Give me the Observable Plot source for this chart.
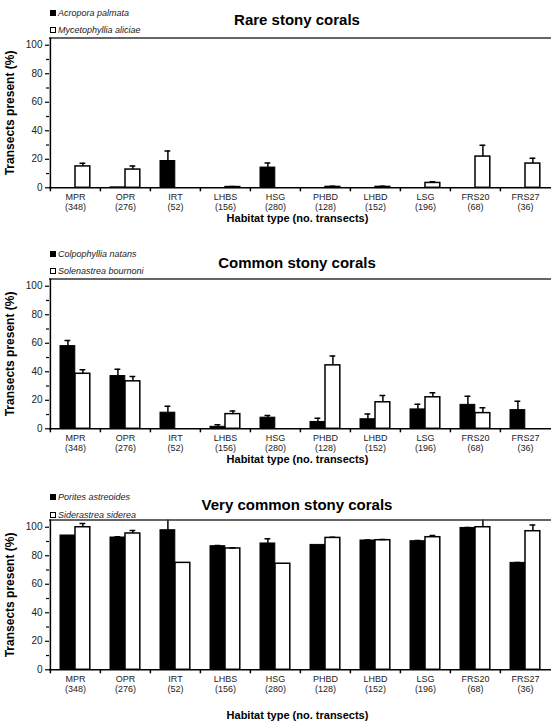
<!DOCTYPE html>
<html>
<head>
<meta charset="utf-8">
<script src="https://cdn.jsdelivr.net/npm/d3@7"></script>
<script src="https://cdn.jsdelivr.net/npm/@observablehq/plot@0.6"></script>
<style>
  body { margin: 0; background: #fff; font-family: "Liberation Sans", Arial, sans-serif; }
  #root { width: 551px; }
  .panel { position: relative; width: 551px; height: 241px; }
  .panel svg { position: absolute; left: 0; top: 0; }
  .title { position: absolute; transform: translate(-50%, -50%); white-space: nowrap;
           font-weight: bold; font-size: 15px; color: #000; }
  .leg { position: absolute; left: 50px; transform: translateY(-50%); white-space: nowrap;
         font-size: 9px; font-style: italic; color: #222; display: flex; align-items: center; }
  .sw { display: inline-block; width: 6px; height: 6px; margin-right: 2px; box-sizing: border-box; }
</style>
</head>
<body>
<div id="root"></div>
<script>
// ---- data ----
const habitats = ["MPR", "OPR", "IRT", "LHBS", "HSG", "PHBD", "LHBD", "LSG", "FRS20", "FRS27"];
const transects = [348, 276, 52, 156, 280, 128, 152, 196, 68, 36];
const yTicks = [0, 20, 40, 60, 80, 100];
const yMinorTicks = [10, 30, 50, 70, 90];
const panelTitles = ["Rare stony corals", "Common stony corals", "Very common stony corals"];
const yLabel = "Transects present (%)";
const xLabel = "Habitat type (no. transects)";

// Rare stony corals
const rareSpecies = ["Acropora palmata", "Mycetophyllia aliciae"];
const acroporaPalmata    = [0, 0.3, 18.8, 0, 14.2, 0, 0, 0, 0, 0];
const acroporaPalmataErr = [null, null, 25.8, null, 17.4, null, null, null, null, null];
const mycetophyllia      = [15.0, 12.8, 0, 0.5, 0, 0.6, 0.6, 3.4, 21.9, 17.0];
const mycetophylliaErr   = [17.2, 15.3, null, 0.9, null, 1.0, 1.0, 4.2, 29.8, 20.7];

// Common stony corals
const commonSpecies = ["Colpophyllia natans", "Solenastrea bournoni"];
const colpophyllia    = [58, 37, 11.3, 1.4, 7.8, 4.8, 6.7, 13.6, 16.8, 13.1];
const colpophylliaErr = [62, 41.8, 15.9, 2.8, 9.4, 7.4, 10.3, 17.2, 22.8, 19.3];
const solenastrea     = [38.6, 33.3, 0, 10.3, 0, 44.5, 18.6, 22.1, 11.0, 0];
const solenastreaErr  = [41.4, 36.6, null, 12.4, null, 51, 23.4, 25.3, 14.7, null];

// Very common stony corals
const veryCommonSpecies = ["Porites astreoides", "Siderastrea siderea"];
const porites        = [94.2, 92.8, 97.9, 86.7, 88.6, 87.6, 90.7, 90.2, 99.5, 75.0];
const poritesErr     = [null, 93.3, 108, 87.2, 92.0, null, 91.0, 90.7, 99.8, 75.3];
const siderastrea    = [100, 95.6, 75.0, 85.1, 74.4, 92.5, 90.9, 93.0, 100, 97.2];
const siderastreaErr = [102.6, 97.7, null, 85.5, null, 93.0, 91.4, 94.2, 108, 101.6];

// ---- build ----
const FONT = '"Liberation Sans", Arial, sans-serif';
const W = 551, H = 241, ML = 49, MT = 37.6, MB = 53.7;
const bw = (W - ML) / habitats.length;

const rows = (vals, errs) => habitats.map((h, i) => ({habitat: h, value: vals[i], err: errs[i]}));

const panels = [
  {title: panelTitles[0], species: rareSpecies, a: rows(acroporaPalmata, acroporaPalmataErr), b: rows(mycetophyllia, mycetophylliaErr),
   titleY: 19, legY: [12.5, 30], xTitleDy: 31},
  {title: panelTitles[1], species: commonSpecies, a: rows(colpophyllia, colpophylliaErr), b: rows(solenastrea, solenastreaErr),
   titleY: 21, legY: [12.5, 29.5], xTitleDy: 31},
  {title: panelTitles[2], species: veryCommonSpecies, a: rows(porites, poritesErr), b: rows(siderastrea, siderastreaErr),
   titleY: 22, legY: [15, 33], xTitleDy: 46}
];

const root = document.getElementById("root");

for (const p of panels) {
  const div = document.createElement("div");
  div.className = "panel";
  root.appendChild(div);

  const svg = Plot.plot({
    width: W, height: H,
    marginLeft: ML, marginRight: 0, marginTop: MT, marginBottom: MB,
    style: {fontFamily: FONT, background: "transparent", overflow: "visible", color: "#000"},
    x: {domain: habitats, paddingInner: 0, paddingOuter: 0, axis: null},
    y: {domain: [0, 105], axis: null},
    marks: [
      // bars
      Plot.barY(p.a, {x: "habitat", y: "value", filter: d => d.value > 0,
        fill: "black", stroke: "black", strokeWidth: 1, insetLeft: 10, insetRight: bw - 25}),
      Plot.barY(p.b, {x: "habitat", y: "value", filter: d => d.value > 0,
        fill: "white", stroke: "black", strokeWidth: 1.5, insetLeft: 25, insetRight: bw - 40}),
      // error bars
      Plot.ruleX(p.a, {x: "habitat", y1: "value", y2: "err", filter: d => d.err != null,
        dx: 17.5 - bw / 2, stroke: "black", strokeWidth: 1.5, clip: true}),
      Plot.tickY(p.a, {x: "habitat", y: "err", filter: d => d.err != null,
        insetLeft: 14.5, insetRight: bw - 20.5, stroke: "black", strokeWidth: 1.5, clip: true}),
      Plot.ruleX(p.b, {x: "habitat", y1: "value", y2: "err", filter: d => d.err != null,
        dx: 32.5 - bw / 2, stroke: "black", strokeWidth: 1.5, clip: true}),
      Plot.tickY(p.b, {x: "habitat", y: "err", filter: d => d.err != null,
        insetLeft: 29.5, insetRight: bw - 35.5, stroke: "black", strokeWidth: 1.5, clip: true}),
      // frame lines
      Plot.ruleY([105], {stroke: "#333", strokeWidth: 1.5}),
      Plot.ruleY([0], {stroke: "black", strokeWidth: 1.5}),
      Plot.ruleX([habitats[0]], {x: d => d, dx: -bw / 2, stroke: "black", strokeWidth: 1.5}),
      // x boundary ticks
      Plot.ruleX(habitats, {x: d => d, dx: -bw / 2, y1: 0, y2: 0, insetBottom: -4,
        stroke: "black", strokeWidth: 1.5}),
      // y axis
      Plot.axisY({ticks: yTicks, tickSize: 4, tickPadding: 3, fontSize: 10, label: null,
        stroke: "black", fill: "#222", strokeWidth: 1.2}),
      Plot.axisY({ticks: yMinorTicks, tickSize: 3, tickFormat: () => "", label: null,
        stroke: "black", strokeWidth: 1.2}),
      // x labels
      Plot.axisX({tickSize: 0, tickPadding: 5, fontSize: 9, lineHeight: 1.12, label: null, fill: "#222",
        tickFormat: d => `${d}\n(${transects[habitats.indexOf(d)]})`}),
      // axis titles
      Plot.text([xLabel], {frameAnchor: "bottom", dy: p.xTitleDy, dx: -3, lineAnchor: "middle",
        fontWeight: "bold", fontSize: 11, fill: "#000"}),
      Plot.text([yLabel], {frameAnchor: "left", dx: -39, rotate: -90, textAnchor: "middle",
        fontWeight: "bold", fontSize: 12, fill: "#000"})
    ]
  });
  div.appendChild(svg);

  const t = document.createElement("div");
  t.className = "title";
  t.style.left = "297px";
  t.style.top = p.titleY + "px";
  t.textContent = p.title;
  div.appendChild(t);

  p.species.forEach((s, i) => {
    const l = document.createElement("div");
    l.className = "leg";
    l.style.top = p.legY[i] + "px";
    const sw = document.createElement("span");
    sw.className = "sw";
    sw.style.background = i === 0 ? "#000" : "#fff";
    sw.style.border = i === 0 ? "none" : "1.5px solid #000";
    l.appendChild(sw);
    const tx = document.createElement("span");
    tx.textContent = s;
    l.appendChild(tx);
    div.appendChild(l);
  });
}
</script>
</body>
</html>
